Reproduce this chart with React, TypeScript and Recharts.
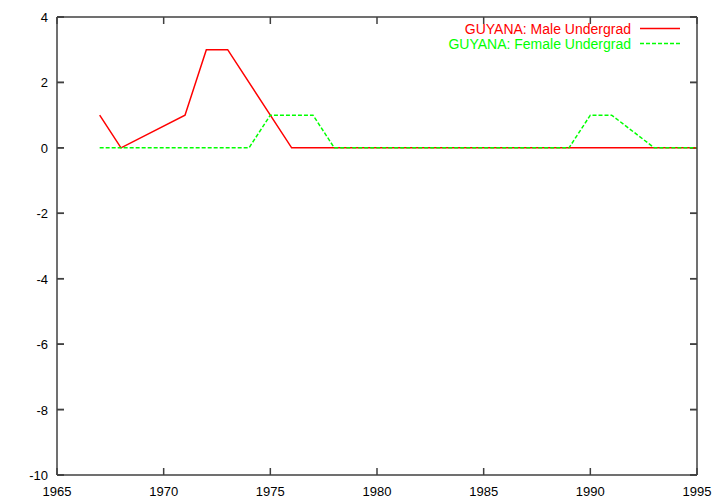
import React from "react";
import { LineChart, Line, XAxis, YAxis, CartesianGrid, ReferenceLine } from "recharts";

// GUYANA undergrad counts, gnuplot-like look

const maleYears = [1967, 1968, 1971, 1972, 1973, 1976, 1980, 1985, 1990, 1995];
const maleValues = [1, 0, 1, 3, 3, 0, 0, 0, 0, 0];

const femaleYears = [1967, 1974, 1975, 1977, 1978, 1989, 1990, 1991, 1993, 1995];
const femaleValues = [0, 0, 1, 1, 0, 0, 1, 1, 0, 0];

const xTicks = [1965, 1970, 1975, 1980, 1985, 1990, 1995];
const yTicks = [-10, -8, -6, -4, -2, 0, 2, 4];

const maleLabel = "GUYANA: Male Undergrad";
const femaleLabel = "GUYANA: Female Undergrad";

const RED = "#ff0000";
const GREEN = "#00ff00";
const AXIS = "#404040";
const FONT = "'Liberation Sans', Arial, Helvetica, sans-serif";
const TICK_LEN = 7;
const frameStyle = { stroke: AXIS, strokeWidth: 1.5 };

const maleData = maleYears.map((year, i) => ({ year, value: maleValues[i] }));
const femaleData = femaleYears.map((year, i) => ({ year, value: femaleValues[i] }));

function BottomLabel(props: any) {
  const { x, y, payload } = props;
  return (
    <text x={x} y={y + 21} textAnchor="middle" fontSize={13} fontFamily={FONT} fill="#000">
      {payload.value}
    </text>
  );
}

function LeftLabel(props: any) {
  const { x, y, payload } = props;
  return (
    <text x={x - 9} y={y + 5} textAnchor="end" fontSize={13} fontFamily={FONT} fill="#000">
      {payload.value}
    </text>
  );
}

// grid lines reduced to short inward ticks at both ends
function HTicks(props: any) {
  const { x1, x2, y1 } = props;
  const left = Math.min(x1, x2);
  const right = Math.max(x1, x2);
  return (
    <g key={`h-${y1}`}>
      <line x1={left} x2={left + TICK_LEN} y1={y1} y2={y1} stroke={AXIS} strokeWidth={1.5} />
      <line x1={right - TICK_LEN} x2={right} y1={y1} y2={y1} stroke={AXIS} strokeWidth={1.5} />
    </g>
  );
}

// same idea through reference lines, for the x ticks and as a backup for y
function HTickShape(props: any) {
  const { x1, x2, y1 } = props;
  if (![x1, x2, y1].every((v) => typeof v === "number" && isFinite(v))) return <g />;
  const left = Math.min(x1, x2);
  const right = Math.max(x1, x2);
  return (
    <g>
      <line x1={left} x2={left + TICK_LEN} y1={y1} y2={y1} stroke={AXIS} strokeWidth={1.5} />
      <line x1={right - TICK_LEN} x2={right} y1={y1} y2={y1} stroke={AXIS} strokeWidth={1.5} />
    </g>
  );
}

function VTickShape(props: any) {
  const { x1, y1, y2 } = props;
  if (![x1, y1, y2].every((v) => typeof v === "number" && isFinite(v))) return <g />;
  const top = Math.min(y1, y2);
  const bottom = Math.max(y1, y2);
  return (
    <g>
      <line x1={x1} x2={x1} y1={top} y2={top + TICK_LEN} stroke={AXIS} strokeWidth={1.5} />
      <line x1={x1} x2={x1} y1={bottom - TICK_LEN} y2={bottom} stroke={AXIS} strokeWidth={1.5} />
    </g>
  );
}

function KeyBox() {
  const rows = [
    { label: maleLabel, color: RED, dash: undefined },
    { label: femaleLabel, color: GREEN, dash: "4 2" },
  ];
  return (
    <div style={{ position: "absolute", top: 21, right: 31, fontFamily: FONT, fontSize: 14 }}>
      {rows.map((r) => (
        <div key={r.label} style={{ display: "flex", alignItems: "center", justifyContent: "flex-end", height: 15 }}>
          <span style={{ color: r.color, whiteSpace: "nowrap" }}>{r.label}</span>
          <svg width={49} height={15} style={{ marginLeft: 9 }}>
            <line x1={0} x2={40} y1={7.5} y2={7.5} stroke={r.color} strokeWidth={1.5} strokeDasharray={r.dash} />
          </svg>
        </div>
      ))}
    </div>
  );
}

export default function App() {
  return (
    <div style={{ position: "absolute", left: 0, top: 0, width: 720, height: 504, background: "#fff" }}>
      <LineChart width={720} height={504} margin={{ top: 7, right: 13, bottom: 9, left: 7 }}>
        <CartesianGrid
          xAxisId="bottom"
          yAxisId="left"
          stroke={AXIS}
          horizontal={HTicks}
          vertical={false}
        />
        <XAxis
          xAxisId="bottom"
          dataKey="year"
          type="number"
          domain={[1965, 1995]}
          ticks={xTicks}
          interval={0}
          allowDataOverflow
          height={20}
          tickSize={0}
          tickMargin={0}
          tickLine={false}
          axisLine={frameStyle}
          tick={BottomLabel}
        />
        <XAxis
          xAxisId="top"
          orientation="top"
          dataKey="year"
          type="number"
          domain={[1965, 1995]}
          ticks={xTicks}
          height={10}
          tickLine={false}
          axisLine={frameStyle}
          tick={false}
        />
        <YAxis
          yAxisId="left"
          type="number"
          domain={[-10, 4]}
          ticks={yTicks}
          interval={0}
          allowDataOverflow
          width={50}
          tickSize={0}
          tickMargin={0}
          tickLine={false}
          axisLine={frameStyle}
          tick={LeftLabel}
        />
        <YAxis
          yAxisId="right"
          orientation="right"
          type="number"
          domain={[-10, 4]}
          ticks={yTicks}
          width={10}
          tickLine={false}
          axisLine={frameStyle}
          tick={false}
        />
        {yTicks.map((v) => (
          <ReferenceLine
            key={`ry-${v}`}
            xAxisId="bottom"
            yAxisId="left"
            y={v}
            ifOverflow="visible"
            shape={HTickShape}
          />
        ))}
        {xTicks.map((v) => (
          <ReferenceLine
            key={`rx-${v}`}
            xAxisId="bottom"
            yAxisId="left"
            x={v}
            ifOverflow="visible"
            shape={VTickShape}
          />
        ))}
        <Line
          xAxisId="bottom"
          yAxisId="left"
          data={maleData}
          dataKey="value"
          name={maleLabel}
          type="linear"
          stroke={RED}
          strokeWidth={1.5}
          dot={false}
          isAnimationActive={false}
        />
        <Line
          xAxisId="bottom"
          yAxisId="left"
          data={femaleData}
          dataKey="value"
          name={femaleLabel}
          type="linear"
          stroke={GREEN}
          strokeWidth={1.5}
          strokeDasharray="4 2"
          dot={false}
          isAnimationActive={false}
        />
      </LineChart>
      <KeyBox />
    </div>
  );
}
